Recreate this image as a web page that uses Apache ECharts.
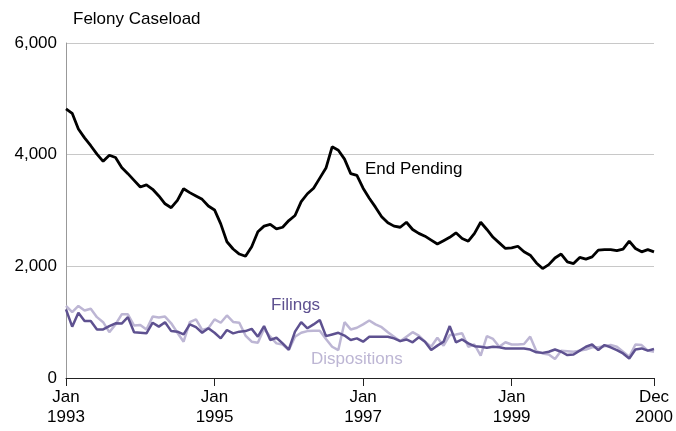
<!DOCTYPE html>
<html>
<head>
<meta charset="utf-8">
<script src="https://cdn.jsdelivr.net/npm/echarts@6/dist/echarts.min.js"></script>
<style>
html,body{margin:0;padding:0;background:#fff;}
#chart{width:676px;height:431px;}
</style>
</head>
<body>
<div id="chart"></div>
<script>
// Monthly, Jan 1993 .. Dec 2000 (96 months)
const monthNames = ['Jan','Feb','Mar','Apr','May','Jun','Jul','Aug','Sep','Oct','Nov','Dec'];
const startYear = 1993;
const endYear = 2000;
const tickIndices = [0, 24, 48, 72, 95];

const endPending = [
  4820,4740,4460,4300,4160,4010,3880,3990,3950,3770,3660,3540,
  3420,3460,3380,3260,3120,3050,3180,3390,3320,3260,3200,3080,
  3010,2760,2440,2310,2220,2180,2350,2620,2720,2750,2670,2700,
  2820,2910,3160,3300,3400,3580,3760,4140,4080,3920,3660,3630,
  3400,3220,3060,2890,2780,2720,2700,2790,2660,2590,2540,2470,
  2400,2460,2520,2600,2500,2450,2590,2790,2660,2520,2420,2320,
  2330,2360,2260,2200,2060,1960,2030,2150,2220,2080,2050,2160,
  2130,2170,2290,2300,2300,2280,2310,2450,2320,2260,2300,2260
];

const filings = [
  1230,920,1170,1020,1020,870,870,930,980,975,1090,820,
  810,800,990,920,1000,840,830,780,960,910,810,890,
  810,710,860,800,830,840,880,740,930,680,720,620,
  510,830,1000,890,960,1040,750,780,810,760,680,710,
  650,740,740,740,740,710,660,690,640,730,650,500,
  580,650,930,640,690,620,570,560,540,560,550,530,
  530,530,530,510,460,450,470,510,470,410,420,490,
  560,600,500,590,550,500,440,350,510,530,490,520
];

const dispositions = [
  1290,1180,1290,1210,1240,1090,1000,820,960,1140,1140,940,
  950,870,1100,1085,1100,980,810,650,1000,1050,860,890,
  1050,990,1120,1005,990,760,650,630,880,740,620,600,
  500,740,810,840,845,845,700,560,500,1000,870,900,
  960,1030,960,910,820,740,660,740,820,760,650,560,
  720,580,770,780,800,560,600,400,750,700,560,640,
  600,600,610,740,480,440,420,340,490,480,470,490,
  510,550,550,570,590,560,470,380,600,590,490,470
];

const yTicks = [0, 2000, 4000, 6000];

const categories = [];
for (let y = startYear; y <= endYear; y++) {
  for (let m = 0; m < 12; m++) categories.push(monthNames[m] + '\n' + y);
}

const FONT = '"Liberation Sans", Arial, Helvetica, sans-serif';
const chart = echarts.init(document.getElementById('chart'), null, {renderer: 'canvas'});

const showTick = (idx) => tickIndices.indexOf(idx) >= 0;

chart.setOption({
  animation: false,
  backgroundColor: '#fff',
  grid: {left: 66, right: 22, top: 43, bottom: 53, containLabel: false},
  xAxis: {
    type: 'category',
    data: categories,
    boundaryGap: false,
    axisLine: {show: true, lineStyle: {color: '#222', width: 1}},
    axisTick: {show: true, length: 8, interval: (idx) => showTick(idx), lineStyle: {color: '#222'}},
    axisLabel: {
      interval: (idx) => showTick(idx),
      color: '#000', fontSize: 17, fontFamily: FONT, lineHeight: 20, margin: 9,
      showMaxLabel: true, showMinLabel: true
    },
    splitLine: {show: false}
  },
  yAxis: {
    type: 'value',
    min: yTicks[0], max: yTicks[yTicks.length - 1], interval: 2000,
    axisLine: {show: true, lineStyle: {color: '#999', width: 1}},
    axisTick: {show: false},
    axisLabel: {
      color: '#000', fontSize: 17, fontFamily: FONT, margin: 9,
      formatter: (v) => v.toLocaleString('en-US')
    },
    splitLine: {show: true, lineStyle: {color: '#c8c8c8', width: 1}}
  },
  series: [
    {
      name: 'Dispositions', type: 'line', data: dispositions,
      symbol: 'none', lineStyle: {color: '#bdb6d4', width: 2.5}, z: 2
    },
    {
      name: 'Filings', type: 'line', data: filings,
      symbol: 'none', lineStyle: {color: '#5e5190', width: 2.5}, z: 3
    },
    {
      name: 'End Pending', type: 'line', data: endPending,
      symbol: 'none', lineStyle: {color: '#000', width: 2.8}, z: 4
    }
  ],
  graphic: [
    {type: 'text', left: 73, top: 11, style: {text: 'Felony Caseload', fill: '#000', font: '17px ' + FONT}},
    {type: 'text', left: 365, top: 161, style: {text: 'End Pending', fill: '#000', font: '17px ' + FONT}},
    {type: 'text', left: 271, top: 297, style: {text: 'Filings', fill: '#5e5190', font: '17px ' + FONT}},
    {type: 'text', left: 311, top: 351, style: {text: 'Dispositions', fill: '#bdb6d4', font: '17px ' + FONT}}
  ]
});
</script>
</body>
</html>
